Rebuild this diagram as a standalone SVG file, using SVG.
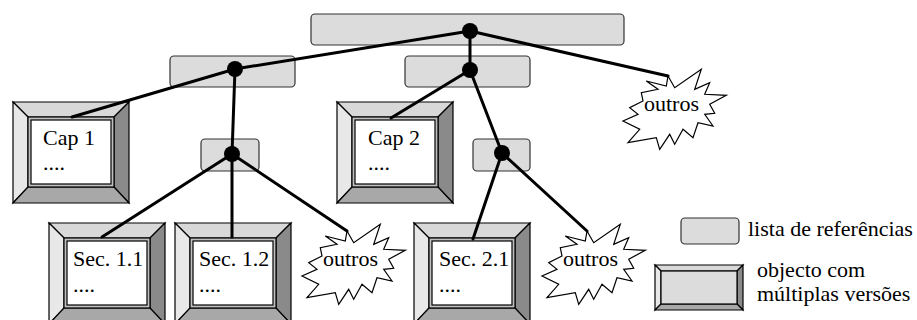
<svg xmlns="http://www.w3.org/2000/svg" xmlns:xlink="http://www.w3.org/1999/xlink" width="917" height="320" viewBox="0 0 917 320">
<style>
text{font-family:"Liberation Serif","DejaVu Serif",serif;font-size:22px;fill:#000}
.lst{fill:#dcdcdc;stroke:#333;stroke-width:1.2}
.con{stroke:#000;stroke-width:3;fill:none;stroke-linecap:round}
.dot{fill:#000}
.o{stroke:#000;stroke-width:1.2;stroke-linejoin:miter}
.star{fill:#fff;stroke:#000;stroke-width:1.2}
</style>
<defs>
<g id="bev">
<polygon class="o" points="0,0 116,0 101,15 15,15" fill="#d8d8d8"/>
<polygon class="o" points="0,0 15,15 15,85 0,101" fill="#e8e8e8"/>
<polygon class="o" points="116,0 116,101 101,85 101,15" fill="#8a8a8a"/>
<polygon class="o" points="0,101 15,85 101,85 116,101" fill="#a8a8a8"/>
<rect x="15" y="15" width="86" height="70" fill="#c0c0c0" stroke="#000" stroke-width="1.2"/>
<rect x="18" y="18" width="80" height="64" fill="#fff" stroke="#000" stroke-width="1.2"/>
</g>
<polygon id="star" class="star" points="0,0 6.7,11.7 33.3,-6.7 26.7,13.3 41.7,6.7 36.7,18.3 58.3,19.3 41.7,28.3 46.7,37.3 36.7,38.3 45,50 30,46.7 25,61.7 15,53.3 6.7,68.3 1.7,58.3 -8.3,73.3 -11.7,61.7 -40,66.7 -28.3,53.3 -45,45 -30,38.3 -38.3,31.7 -25,25 -26.7,16.7 -10,13.3 -21.7,5 -1.7,10"/>
</defs>

<g id="lst-top"><rect class="lst" x="311" y="14" width="313" height="31" rx="4"/></g>
<g id="lst-cap1"><rect class="lst" x="170" y="56" width="125" height="31" rx="4"/></g>
<g id="lst-cap2"><rect class="lst" x="405" y="56" width="125" height="31" rx="4"/></g>
<g id="lst-sec1"><rect class="lst" x="201" y="139" width="58" height="32" rx="4"/></g>
<g id="lst-sec2"><rect class="lst" x="473" y="139" width="57" height="32" rx="4"/></g>

<g id="cap1" font-family="Liberation Serif, serif"><use xlink:href="#bev" x="13" y="102"/><text x="43" y="145">Cap 1</text><text x="43" y="170">....</text></g>
<g id="cap2" font-family="Liberation Serif, serif"><use xlink:href="#bev" x="337" y="102"/><text x="368" y="145">Cap 2</text><text x="368" y="170">....</text></g>
<g id="sec11" font-family="Liberation Serif, serif"><use xlink:href="#bev" x="49" y="223"/><text x="73" y="266">Sec. 1.1</text><text x="73" y="292">....</text></g>
<g id="sec12" font-family="Liberation Serif, serif"><use xlink:href="#bev" x="175" y="223"/><text x="199" y="266">Sec. 1.2</text><text x="199" y="292">....</text></g>
<g id="sec21" font-family="Liberation Serif, serif"><use xlink:href="#bev" x="414" y="223"/><text x="439" y="266">Sec. 2.1</text><text x="439" y="292">....</text></g>

<g id="outros-top"><use xlink:href="#star" x="668" y="76"/><text x="644" y="111">outros</text></g>
<g id="outros-sec1"><use xlink:href="#star" x="347" y="231"/><text x="323" y="266">outros</text></g>
<g id="outros-sec2"><use xlink:href="#star" x="587" y="231"/><text x="563" y="266">outros</text></g>

<g id="connectors">
<path class="con" d="M470,31 L235,69 L72,117"/>
<path class="con" d="M470,31 L470,70"/>
<path class="con" d="M470,31 L668,76"/>
<path class="con" d="M235,69 L232,154"/>
<path class="con" d="M470,70 L391,118"/>
<path class="con" d="M470,70 L502,153"/>
<path class="con" d="M232,154 L102,237"/>
<path class="con" d="M232,154 L232,237"/>
<path class="con" d="M232,154 L347,231"/>
<path class="con" d="M502,153 L473,239"/>
<path class="con" d="M502,153 L587,231"/>
<circle class="dot" cx="470" cy="31" r="8"/>
<circle class="dot" cx="470" cy="70" r="8"/>
<circle class="dot" cx="235" cy="69" r="8"/>
<circle class="dot" cx="232" cy="154" r="8"/>
<circle class="dot" cx="502" cy="153" r="8"/>
</g>

<g id="legend-list"><rect class="lst" x="681" y="218" width="58" height="26" rx="4"/><text x="748" y="236">lista de referências</text></g>
<g id="legend-obj">
<polygon class="o" points="655,265 743,265 737,271 661,271" fill="#d8d8d8"/>
<polygon class="o" points="655,265 661,271 661,304 655,310" fill="#e8e8e8"/>
<polygon class="o" points="743,265 743,310 737,304 737,271" fill="#8a8a8a"/>
<polygon class="o" points="655,310 661,304 737,304 743,310" fill="#a8a8a8"/>
<rect x="661" y="271" width="76" height="33" fill="#dcdcdc" stroke="#000" stroke-width="1.2"/>
<text x="757" y="277" font-size="21">objecto com</text>
<text x="757" y="301" font-size="21">múltiplas versões</text>
</g>
</svg>
